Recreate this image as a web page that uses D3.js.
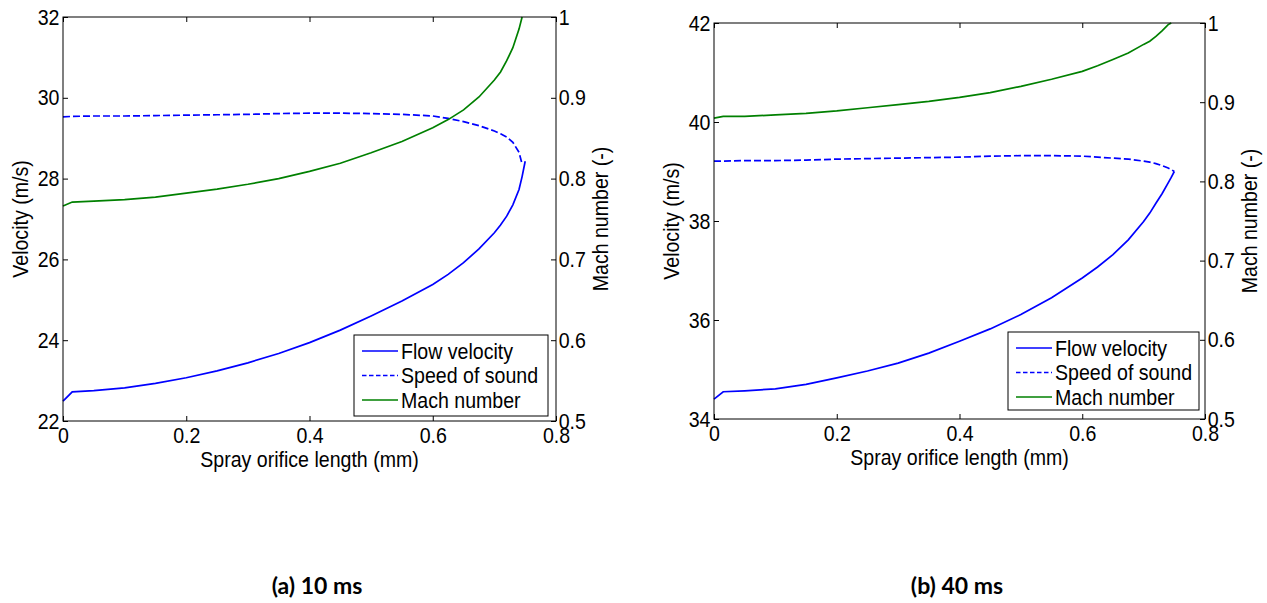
<!DOCTYPE html>
<html>
<head>
<meta charset="utf-8">
<script src="https://cdn.jsdelivr.net/npm/d3@7"></script>
<style>
  html, body { margin: 0; padding: 0; background: #fff; }
  svg { display: block; }
</style>
</head>
<body>
<svg id="chart" width="1267" height="603"></svg>
<script>
// ---- shared axis values ----
const xTicks = [0, 0.2, 0.4, 0.6, 0.8];
const machTicks = [0.5, 0.6, 0.7, 0.8, 0.9, 1];
const seriesNames = ["Flow velocity", "Speed of sound", "Mach number"];
const xTitle = "Spray orifice length (mm)";
const velTitle = "Velocity (m/s)";
const machTitle = "Mach number (-)";

// positions along the spray orifice (mm)
const positions = [0, 0.015, 0.05, 0.1, 0.15, 0.2, 0.25, 0.3, 0.35, 0.4, 0.45, 0.5,
  0.55, 0.6, 0.625, 0.65, 0.675, 0.7, 0.71, 0.72, 0.73, 0.74, 0.745, 0.75];

// ---- (a) 10 ms ----
const velTicksA = [22, 24, 26, 28, 30, 32];
const flowA = [22.49, 22.72, 22.75, 22.82, 22.93, 23.07, 23.24, 23.44, 23.67, 23.94, 24.25, 24.60,
  24.97, 25.38, 25.63, 25.92, 26.26, 26.66, 26.85, 27.07, 27.35, 27.73, 28.05, 28.43];
const soundA = [29.53, 29.54, 29.55, 29.55, 29.56, 29.57, 29.58, 29.59, 29.61, 29.62, 29.62, 29.61,
  29.59, 29.55, 29.49, 29.41, 29.31, 29.18, 29.11, 29.03, 28.90, 28.65, 28.36];
const machA = [0.766, 0.771, 0.772, 0.774, 0.777, 0.782, 0.787, 0.793, 0.800, 0.809, 0.819, 0.832,
  0.846, 0.863, 0.873, 0.885, 0.901, 0.922, 0.932, 0.946, 0.962, 0.985, 1.0];

// ---- (b) 40 ms ----
const velTicksB = [34, 36, 38, 40, 42];
const flowB = [34.40, 34.55, 34.57, 34.61, 34.70, 34.83, 34.97, 35.13, 35.33, 35.57, 35.82, 36.11,
  36.45, 36.85, 37.07, 37.32, 37.62, 37.99, 38.16, 38.36, 38.55, 38.77, 38.88, 39.00];
const soundB = [39.21, 39.21, 39.22, 39.22, 39.23, 39.25, 39.26, 39.27, 39.28, 39.29, 39.31, 39.32,
  39.32, 39.31, 39.29, 39.27, 39.25, 39.21, 39.19, 39.16, 39.12, 39.07, 39.04, 39.00];
const machB = [0.880, 0.882, 0.882, 0.884, 0.886, 0.889, 0.893, 0.897, 0.901, 0.906, 0.912, 0.920,
  0.929, 0.939, 0.946, 0.954, 0.962, 0.973, 0.977, 0.983, 0.990, 0.998, 1.0];

const captions = ["(a) 10 ms", "(b) 40 ms"];

// ---- styling ----
const BLUE = "#0000ff";
const GREEN = "#008000";
const FONT = "'Liberation Sans', Arial, sans-serif";
const FS = 22;       // label font size
const SX = 0.89;     // horizontal squeeze of the label glyphs
const LW = 1.7;      // curve stroke width

const panels = [
  { left: 63, right: 556, top: 17, bottom: 421,
    velDomain: [22, 32], velTicks: velTicksA, flow: flowA, sound: soundA, mach: machA,
    legend: { x: 354, y: 335, w: 194, h: 81 }, caption: captions[0], capX: 317 },
  { left: 714, right: 1205, top: 23, bottom: 419,
    velDomain: [34, 42], velTicks: velTicksB, flow: flowB, sound: soundB, mach: machB,
    legend: { x: 1008, y: 332, w: 191, h: 78 }, caption: captions[1], capX: 957 }
];

const svg = d3.select("#chart");

function label(g, x, y, s, anchor, rot) {
  return g.append("text")
    .attr("transform", `translate(${x},${y})${rot ? ` rotate(${rot})` : ""} scale(${SX},1)`)
    .attr("text-anchor", anchor)
    .attr("font-family", FONT)
    .attr("font-size", FS)
    .attr("fill", "#000")
    .text(s);
}

function styleAxis(g) {
  g.select(".domain").remove();
  g.selectAll(".tick line").attr("stroke", "#000").attr("stroke-width", 1);
  g.selectAll(".tick text")
    .attr("font-family", FONT)
    .attr("font-size", FS)
    .attr("fill", "#000")
    .attr("transform", `scale(${SX},1)`);
}

panels.forEach(p => {
  const g = svg.append("g");
  const x = d3.scaleLinear().domain([0, 0.8]).range([p.left, p.right]);
  const yV = d3.scaleLinear().domain(p.velDomain).range([p.bottom, p.top]);
  const yM = d3.scaleLinear().domain([0.5, 1]).range([p.bottom, p.top]);

  // data curves
  const line = (ys) => d3.line().x(d => x(d[0])).y(d => ys(d[1]));
  g.append("path").datum(d3.zip(positions, p.flow))
    .attr("d", line(yV)).attr("fill", "none")
    .attr("stroke", BLUE).attr("stroke-width", LW);
  g.append("path").datum(d3.zip(positions, p.sound))
    .attr("d", line(yV)).attr("fill", "none")
    .attr("stroke", BLUE).attr("stroke-width", LW).attr("stroke-dasharray", "7,3");
  g.append("path").datum(d3.zip(positions, p.mach))
    .attr("d", line(yM)).attr("fill", "none")
    .attr("stroke", GREEN).attr("stroke-width", LW);

  // axes with inward ticks
  const fmtX = d => d === 0 ? "0" : d3.format(".1f")(d);
  const fmtM = d => d === 1 ? "1" : d3.format(".1f")(d);

  g.append("g").attr("transform", `translate(0,${p.bottom})`)
    .call(d3.axisBottom(x).tickValues(xTicks).tickFormat(fmtX).tickSize(-5).tickPadding(6))
    .call(styleAxis);
  g.append("g").attr("transform", `translate(0,${p.top})`)
    .call(d3.axisTop(x).tickValues(xTicks).tickFormat("").tickSize(-5))
    .call(styleAxis);
  g.append("g").attr("transform", `translate(${p.left},0)`)
    .call(d3.axisLeft(yV).tickValues(p.velTicks).tickFormat(d3.format("d")).tickSize(-5).tickPadding(4))
    .call(styleAxis);
  g.append("g").attr("transform", `translate(${p.right},0)`)
    .call(d3.axisRight(yM).tickValues(machTicks).tickFormat(fmtM).tickSize(-5).tickPadding(3))
    .call(styleAxis);

  // axes box
  g.append("rect")
    .attr("x", p.left).attr("y", p.top)
    .attr("width", p.right - p.left).attr("height", p.bottom - p.top)
    .attr("fill", "none").attr("stroke", "#000").attr("stroke-width", 1);

  // axis titles
  label(g, (p.left + p.right) / 2, p.bottom + 46, xTitle, "middle");
  label(g, p.left - 35, (p.top + p.bottom) / 2, velTitle, "middle", -90);
  label(g, p.right + 52, (p.top + p.bottom) / 2, machTitle, "middle", -90);

  // legend
  const L = p.legend;
  const lg = g.append("g");
  lg.append("rect").attr("x", L.x).attr("y", L.y).attr("width", L.w).attr("height", L.h)
    .attr("fill", "#fff").attr("stroke", "#000").attr("stroke-width", 1);
  const rowY = [16, 40.5, 65];
  const rowStyle = [
    { color: BLUE, dash: null },
    { color: BLUE, dash: "4.5,2.5" },
    { color: GREEN, dash: null }
  ];
  seriesNames.forEach((name, i) => {
    const yy = L.y + rowY[i];
    const ln = lg.append("line").attr("x1", L.x + 8).attr("x2", L.x + 44)
      .attr("y1", yy).attr("y2", yy)
      .attr("stroke", rowStyle[i].color).attr("stroke-width", LW);
    if (rowStyle[i].dash) ln.attr("stroke-dasharray", rowStyle[i].dash);
    label(lg, L.x + 47, yy + 7.5, name, "start");
  });

  // panel caption
  svg.append("text")
    .attr("x", p.capX).attr("y", 594)
    .attr("text-anchor", "middle")
    .attr("font-family", "Lato, 'Open Sans', sans-serif")
    .attr("font-weight", "bold")
    .attr("font-size", 23)
    .attr("fill", "#000")
    .text(p.caption);
});
</script>
</body>
</html>
